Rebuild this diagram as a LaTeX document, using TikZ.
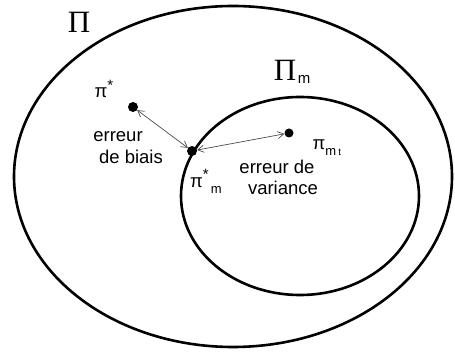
\documentclass[tikz,border=0pt]{standalone}
\usepackage{fontspec}
\setmainfont{Liberation Sans}
\newfontfamily\serifPi{Liberation Serif}
\usetikzlibrary{arrows.meta}
\begin{document}
\begin{tikzpicture}[x=1pt,y=-1pt,
  setline/.style={line width=2.6pt},
  dotnode/.style={circle,fill=black,inner sep=0pt,minimum size=10pt},
  errarrow/.style={{Straight Barb[length=6pt,width=7pt]}-{Straight Barb[length=6pt,width=7pt]}, line width=0.7pt, draw=black!70},
  lbl/.style={inner sep=0pt,font=\fontsize{18.5}{20}\selectfont},
  biglbl/.style={inner sep=0pt,font=\serifPi\fontsize{31}{31}\selectfont}]
\useasboundingbox (0,0) rectangle (455,352);
\draw[setline] (233,176.5) ellipse [x radius=219, y radius=170.5];
\draw[setline] (300,196) ellipse [x radius=119, y radius=99];
\node[dotnode] (pstar) at (133,107) {};
\node[dotnode] (pm) at (192,151) {};
\node[dotnode,minimum size=9pt] (pmt) at (289,133) {};
\draw[errarrow] (pstar) -- (pm);
\draw[errarrow] (pm) -- (pmt);
\node[biglbl] (Pi) at (79,22) {Π};
\node[biglbl,anchor=center] (Pim) at (285,70) {Π};
\node[inner sep=0pt,font=\fontsize{15}{15}\selectfont] (Pimsub) at (304,79) {m};
\node[lbl] (pstarlbl) at (104,89) {π\raisebox{0.8ex}{\fontsize{15}{15}\selectfont *}};
\node[lbl] (biais1) at (118,137) {erreur};
\node[lbl] (biais2) at (131,157) {de biais};
\node[lbl] (pmlbl) at (206,181) {π\raisebox{0.8ex}{\fontsize{15}{15}\selectfont *}\raisebox{-0.6ex}{\fontsize{13}{13}\selectfont\,m}};
\node[lbl] (var1) at (277,167) {erreur de};
\node[lbl] (var2) at (283,188) {variance};
\node[lbl] (pmtlbl) at (327,148) {π\raisebox{-0.6ex}{\fontsize{13}{13}\selectfont m\,\fontsize{10}{10}\selectfont t}};
\end{tikzpicture}
\end{document}
